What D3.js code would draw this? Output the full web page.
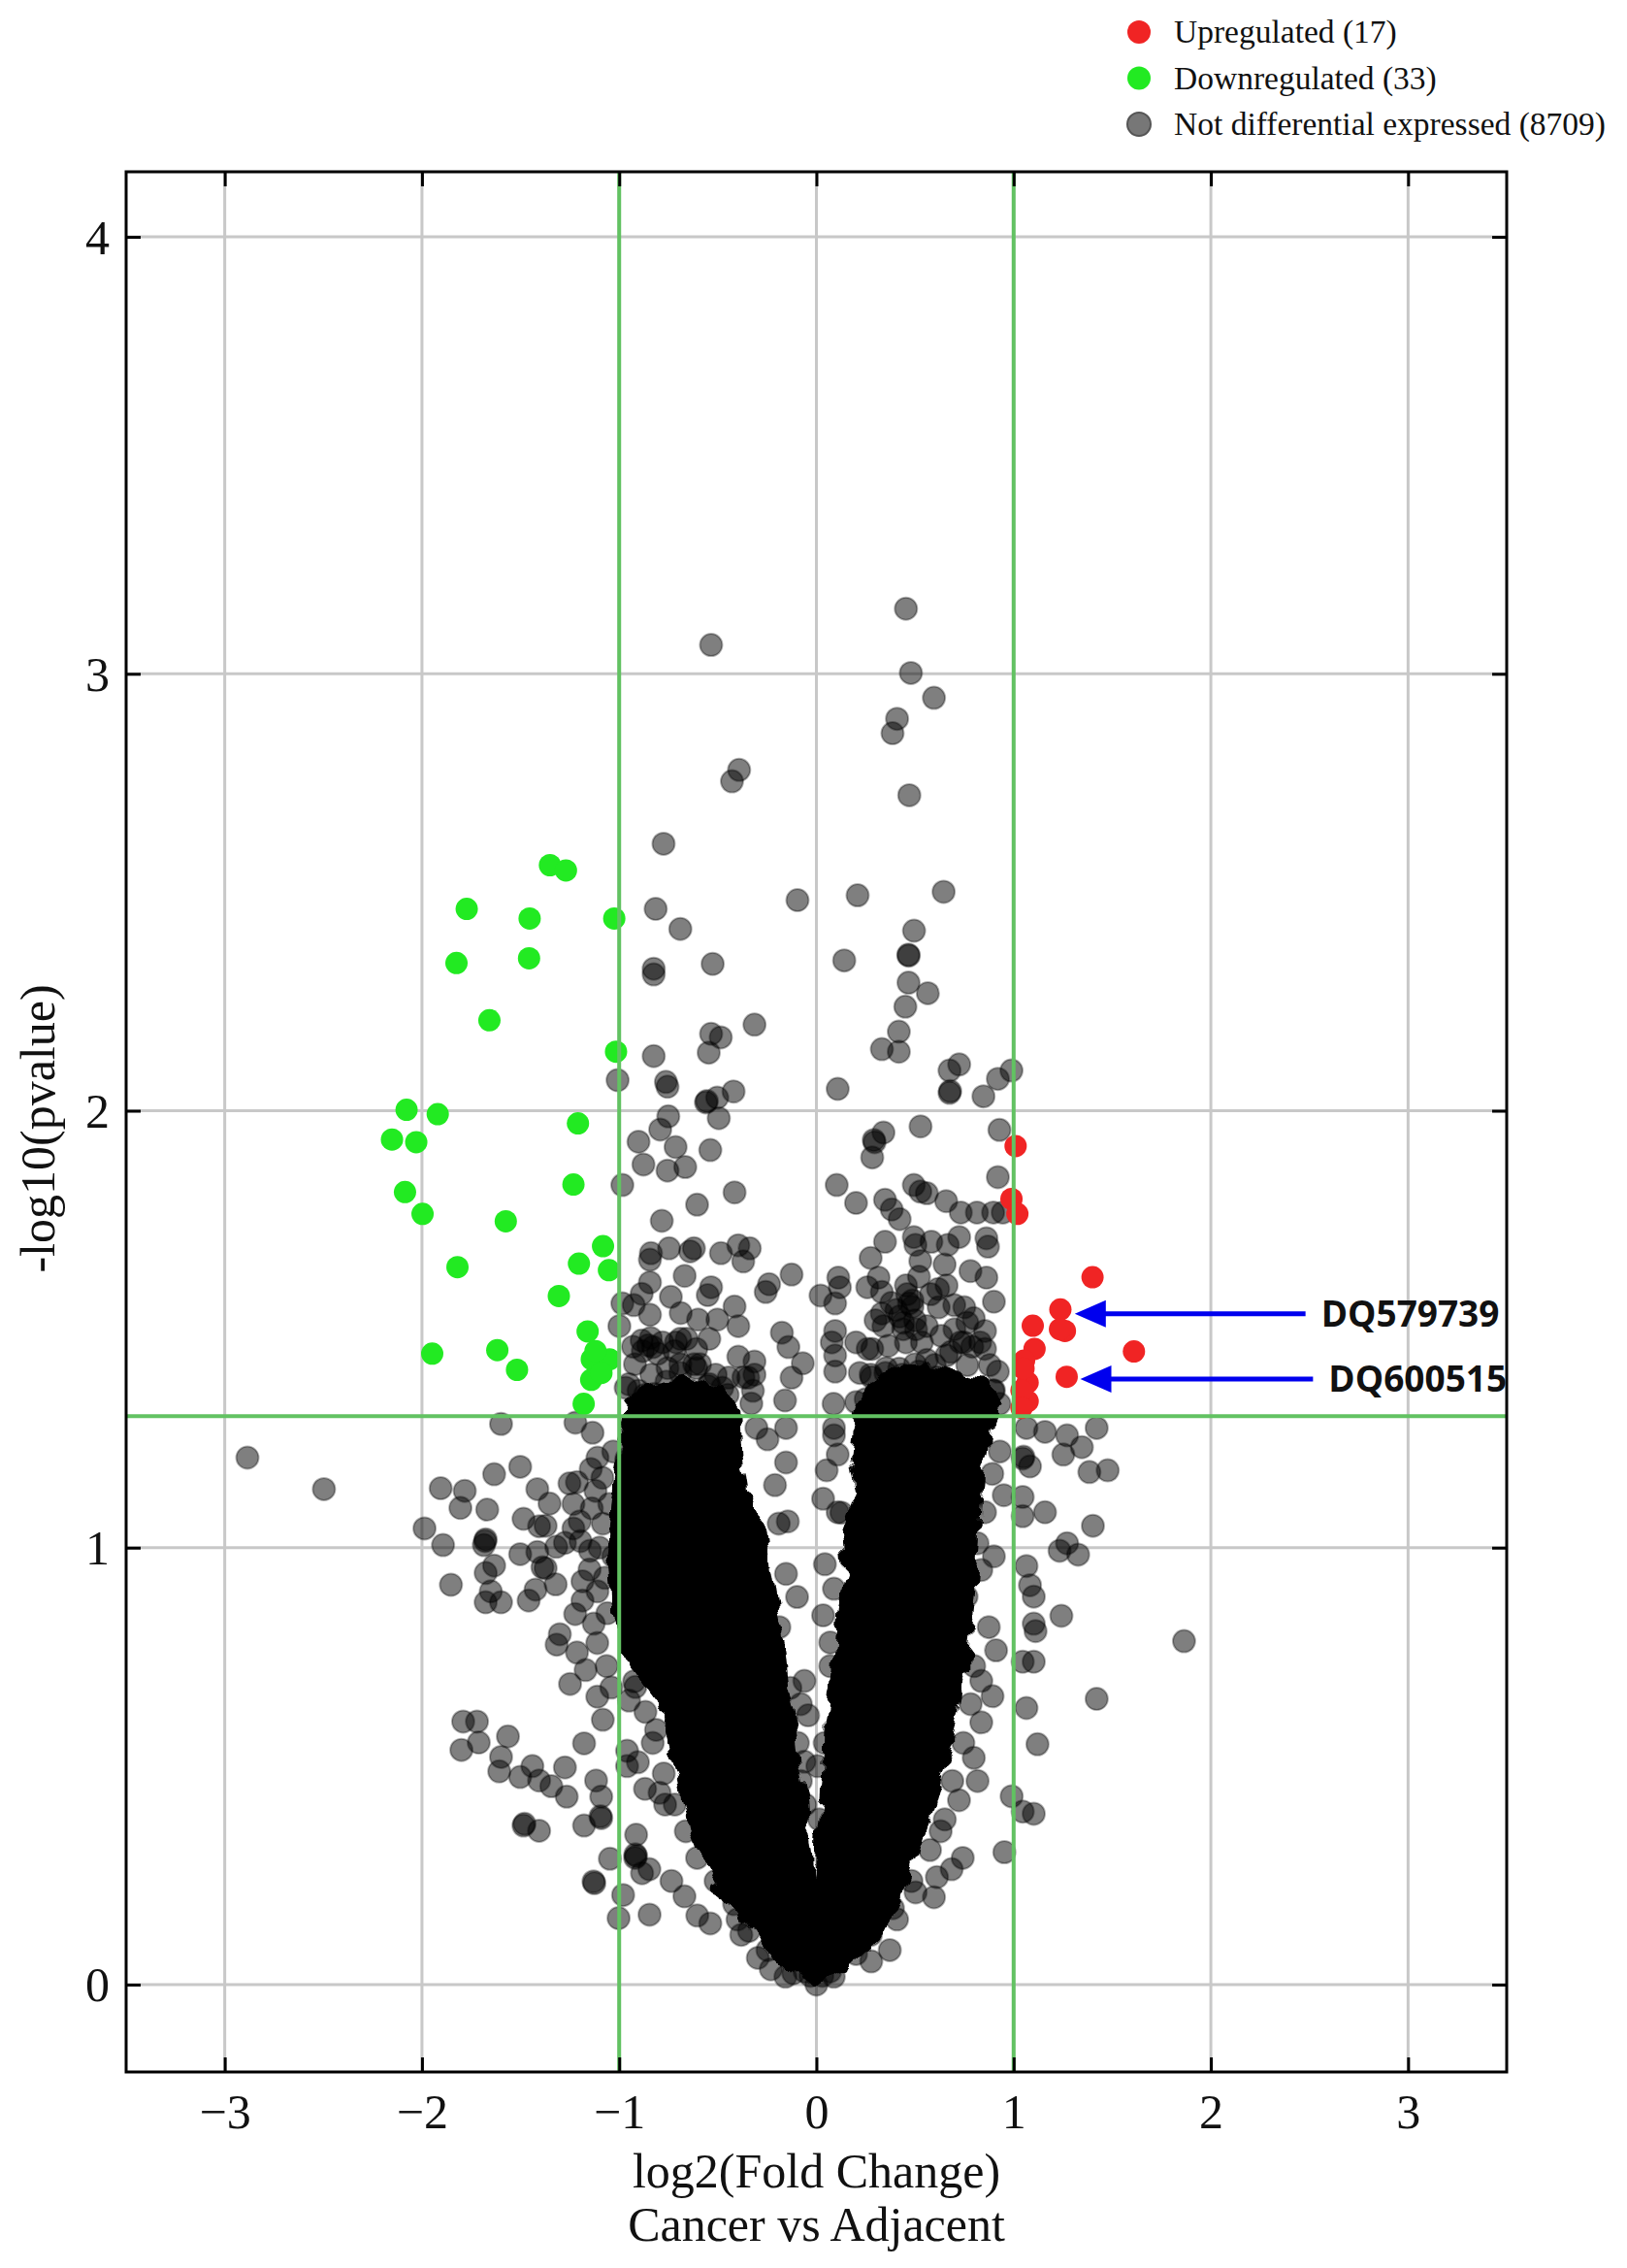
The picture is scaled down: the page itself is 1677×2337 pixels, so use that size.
<!DOCTYPE html>
<html>
<head>
<meta charset="utf-8">
<script src="https://cdn.jsdelivr.net/npm/d3@7"></script>
<style>
  body { margin: 0; background: #fff; }
  svg { display: block; }
</style>
</head>
<body>
<div id="chart"></div>
<script>
// Values: [log2 fold change, -log10 p]
const xTicks = [-3, -2, -1, 0, 1, 2, 3];
const yTicks = [0, 1, 2, 3, 4];
const foldCutoffs = [-1, 1];
const pCutoff = 1.301;

const upregulated = [
  [1.010, 1.919], [0.989, 1.798], [1.019, 1.764], [1.40, 1.619], [1.237, 1.545],
  [1.26, 1.496], [1.235, 1.50], [1.097, 1.508], [1.61, 1.449], [1.106, 1.455],
  [1.053, 1.428], [1.269, 1.391], [1.071, 1.378], [1.071, 1.335], [1.05, 1.41],
  [1.04, 1.36], [1.04, 1.32]
];

const downregulated = [
  [-1.351, 2.562], [-1.27, 2.55], [-1.773, 2.462], [-1.454, 2.440], [-1.025, 2.440],
  [-1.825, 2.338], [-1.457, 2.349], [-1.658, 2.207], [-1.016, 2.135], [-2.078, 2.002],
  [-1.92, 1.992], [-2.152, 1.934], [-2.029, 1.928], [-1.209, 1.971], [-2.086, 1.814],
  [-1.997, 1.764], [-1.575, 1.747], [-1.232, 1.831], [-1.082, 1.690], [-1.82, 1.642],
  [-1.204, 1.650], [-1.052, 1.635], [-1.306, 1.576], [-1.948, 1.444], [-1.618, 1.452],
  [-1.518, 1.407], [-1.16, 1.495], [-1.139, 1.431], [-1.049, 1.431], [-1.142, 1.384],
  [-1.18, 1.329], [-1.12, 1.45], [-1.09, 1.40]
];

const notDifferential = [
  // upper right of zero
  [0.454, 3.149], [0.479, 3.002], [0.596, 2.945], [0.409, 2.897], [0.386, 2.864],
  [0.471, 2.722], [0.209, 2.493], [0.645, 2.501], [0.495, 2.412], [0.141, 2.344],
  [0.466, 2.357], [0.468, 2.355], [0.467, 2.293], [0.565, 2.269], [0.451, 2.238],
  [0.418, 2.181], [0.332, 2.141], [0.418, 2.135], [0.675, 2.092], [0.724, 2.106],
  [0.675, 2.041], [0.678, 2.045], [0.108, 2.050], [0.847, 2.033], [0.92, 2.073],
  [0.989, 2.092], [0.34, 1.95], [0.291, 1.933], [0.295, 1.928], [0.528, 1.964], [0.928, 1.956],
  // upper left of zero
  [-0.534, 3.066], [-0.392, 2.78], [-0.428, 2.754], [-0.775, 2.611], [-0.815, 2.462],
  [-0.69, 2.416], [-0.096, 2.482], [-0.526, 2.336], [-0.825, 2.325], [-0.825, 2.312],
  [-0.314, 2.197], [-0.534, 2.176], [-0.485, 2.168], [-0.546, 2.133], [-0.825, 2.125],
  [-1.008, 2.07], [-0.763, 2.066], [-0.755, 2.055], [-0.42, 2.044], [-0.56, 2.019],
  [-0.555, 2.022], [-0.503, 2.03], [-0.495, 1.983], [-0.751, 1.987], [-0.792, 1.957],
  [-0.902, 1.929], [-0.714, 1.917], [-0.538, 1.91], [-0.877, 1.877], [-0.755, 1.863],
  [-0.665, 1.871],
  // band above the p cutoff, left
  [-0.984, 1.83], [-0.415, 1.813], [-0.605, 1.785], [-0.784, 1.748], [-0.839, 1.674],
  [-0.844, 1.659], [-0.747, 1.685], [-0.64, 1.678], [-0.621, 1.685], [-0.484, 1.674],
  [-0.396, 1.692], [-0.338, 1.685], [-0.371, 1.655], [-0.668, 1.622], [-0.844, 1.607],
  [-0.886, 1.581], [-0.738, 1.574], [-0.534, 1.596], [-0.551, 1.578], [-0.984, 1.559],
  [-0.926, 1.555], [-0.844, 1.533], [-0.688, 1.537], [-0.6, 1.522], [-0.502, 1.522],
  [-0.415, 1.552], [-0.396, 1.507], [-0.24, 1.603], [-0.257, 1.585], [-0.126, 1.625],
  [-0.999, 1.507], [-0.886, 1.474], [-0.829, 1.459], [-0.804, 1.444], [-0.658, 1.478],
  [-0.609, 1.455], [-0.543, 1.478], [-0.712, 1.47], [-0.175, 1.492], [-0.142, 1.459],
  [-0.069, 1.422], [-0.126, 1.389], [-0.159, 1.337], [-0.396, 1.437], [-0.314, 1.426],
  [-0.322, 1.359], [-0.609, 1.411], [-0.511, 1.396], [-0.967, 1.366], [-0.902, 1.359],
  [-0.821, 1.352], [-0.706, 1.359], [-0.543, 1.374], [-0.445, 1.389], [-0.314, 1.396],
  [-0.837, 1.396], [-0.755, 1.411], [-0.87, 1.35], [-0.80, 1.34], [-0.72, 1.33],
  [-0.64, 1.36], [-0.58, 1.34], [-0.5, 1.33], [-0.45, 1.35], [-0.69, 1.40],
  [-0.76, 1.38], [-0.62, 1.42], [-0.55, 1.37], [-0.37, 1.39], [-0.33, 1.33],
  [-0.88, 1.45], [-0.84, 1.48], [-0.92, 1.42], [-0.78, 1.47],
  [-0.853, 1.463], [-0.69, 1.478], [-0.69, 1.42], [-0.59, 1.42], [-0.951, 1.374],
  [-0.771, 1.344], [-0.477, 1.366], [-0.346, 1.389], [-0.93, 1.46], [-0.72, 1.45],
  // band above the p cutoff, right
  [0.283, 1.893], [0.92, 1.848], [0.103, 1.83], [0.201, 1.789], [0.348, 1.796],
  [0.494, 1.83], [0.527, 1.815], [0.56, 1.811], [0.658, 1.793], [0.382, 1.774],
  [0.422, 1.752], [0.732, 1.767], [0.814, 1.767], [0.896, 1.767], [0.945, 1.767],
  [0.494, 1.711], [0.502, 1.693], [0.583, 1.7], [0.666, 1.693], [0.724, 1.711],
  [0.862, 1.708], [0.87, 1.689], [0.348, 1.7], [0.275, 1.663], [0.527, 1.656],
  [0.65, 1.648], [0.781, 1.633], [0.862, 1.618], [0.617, 1.592], [0.699, 1.555],
  [0.9, 1.563], [0.315, 1.618], [0.258, 1.596], [0.332, 1.585], [0.454, 1.6],
  [0.487, 1.566], [0.487, 1.551], [0.111, 1.618], [0.119, 1.596], [0.021, 1.577],
  [0.095, 1.559], [0.332, 1.536], [0.422, 1.529], [0.56, 1.507], [0.798, 1.525],
  [0.855, 1.496], [0.095, 1.496], [0.078, 1.47], [0.201, 1.47], [0.283, 1.455],
  [0.364, 1.462], [0.454, 1.47], [0.095, 1.44], [0.095, 1.403], [0.855, 1.455],
  [0.879, 1.418], [0.92, 1.403], [0.087, 1.329], [0.201, 1.333], [0.928, 1.329],
  [0.22, 1.40], [0.28, 1.39], [0.35, 1.40], [0.42, 1.41], [0.50, 1.42],
  [0.56, 1.43], [0.61, 1.39], [0.66, 1.44], [0.73, 1.47], [0.79, 1.46],
  [0.25, 1.34], [0.33, 1.33], [0.40, 1.35], [0.47, 1.34], [0.55, 1.36],
  [0.62, 1.33], [0.70, 1.36], [0.77, 1.35], [0.84, 1.34], [0.90, 1.36],
  [0.44, 1.50], [0.50, 1.52], [0.62, 1.55], [0.66, 1.60], [0.58, 1.58],
  [0.75, 1.55], [0.70, 1.50], [0.30, 1.52], [0.38, 1.56], [0.52, 1.62], [0.46, 1.58],
  [0.275, 1.396], [0.354, 1.411], [0.436, 1.396], [0.518, 1.403], [0.6, 1.418],
  [0.682, 1.448], [0.748, 1.47], [0.765, 1.418], [0.32, 1.352], [0.418, 1.344],
  [0.518, 1.352], [0.616, 1.337], [0.714, 1.359], [0.814, 1.352], [0.896, 1.359],
  [0.44, 1.515], [0.505, 1.5], [0.34, 1.507], [0.405, 1.544], [0.47, 1.559],
  [0.535, 1.47], [0.633, 1.485], [0.765, 1.515], [0.83, 1.47], [0.26, 1.455],
  // far left, below the p cutoff
  [-2.885, 1.206], [-2.497, 1.134], [-1.599, 1.283], [-1.222, 1.286], [-1.135, 1.263],
  [-1.905, 1.136], [-1.783, 1.130], [-1.805, 1.091], [-1.669, 1.087], [-1.634, 1.168],
  [-1.502, 1.185], [-1.415, 1.134], [-1.353, 1.101], [-1.485, 1.066], [-1.406, 1.049],
  [-1.987, 1.044], [-1.893, 1.006], [-1.677, 1.019], [-1.68, 1.015], [-1.686, 1.006],
  [-1.502, 0.985], [-1.415, 0.990], [-1.389, 0.955], [-1.634, 0.959], [-1.677, 0.942],
  [-1.853, 0.915], [-1.651, 0.900], [-1.677, 0.875], [-1.599, 0.875], [-1.459, 0.879],
  [-1.424, 0.904], [-1.322, 0.916], [-1.275, 1.011], [-1.232, 1.044], [-1.232, 1.1],
  [-1.214, 1.15], [-1.144, 1.18], [-1.11, 1.206], [-1.301, 0.802], [-1.214, 0.76],
  [-1.249, 0.688], [-1.791, 0.602], [-1.721, 0.602], [-1.8, 0.537], [-1.712, 0.554],
  [-1.564, 0.568], [-1.599, 0.521], [-1.608, 0.488], [-1.502, 0.475], [-1.44, 0.5],
  [-1.406, 0.467], [-1.344, 0.454], [-1.275, 0.497], [-1.266, 0.43], [-1.178, 0.552],
  [-1.117, 0.467], [-1.091, 0.43], [-1.485, 0.364], [-1.48, 0.368], [-1.406, 0.352],
  [-1.178, 0.364], [-1.091, 0.381], [-1.095, 0.385], [-1.047, 0.288], [-1.126, 0.232],
  [-1.13, 0.236], [-1.003, 0.152], [-0.846, 0.16], [-0.919, 0.29], [-0.98, 0.205],
  [-0.884, 0.255], [-0.963, 1.198], [-1.319, 1.002], [-1.11, 0.9],
  [-1.252, 1.147], [-1.085, 1.16], [-1.139, 1.09], [-1.083, 1.055], [-1.373, 1.05],
  [-1.196, 1.015], [-1.148, 0.993], [-1.373, 0.953], [-1.186, 0.923], [-1.073, 0.931],
  [-1.186, 0.879], [-1.223, 0.848], [-1.129, 0.826], [-1.317, 0.778], [-1.111, 0.782],
  [-1.064, 0.729], [-1.111, 0.659], [-1.083, 0.606], [-0.914, 0.343], [-0.914, 0.294],
  [-0.918, 0.298], [-0.847, 0.264], [-0.735, 0.237], [-0.669, 0.202], [-0.604, 0.158],
  [-0.538, 0.14], [-0.4, 0.149], [-0.381, 0.114], [-0.297, 0.061], [-0.231, 0.035],
  [-0.157, 0.018], [-0.96, 0.535], [-0.96, 0.5], [-0.905, 0.509], [-0.869, 0.448],
  [-0.795, 0.439], [-0.767, 0.412], [-0.813, 0.583], [-0.95, 0.65], [-0.918, 0.681],
  [-1.05, 1.1], [-1.03, 0.98], [-1.06, 0.85], [-1.04, 0.68], [-1.15, 0.95],
  [-1.2, 1.06], [-1.03, 1.22], [-1.17, 0.72], [-1.1, 1.0], [-1.12, 1.13],
  // edges of the V
  [-0.942, 1.257], [-0.963, 1.204], [-0.924, 0.694], [-0.867, 0.624], [-0.83, 0.553],
  [-0.774, 0.483], [-0.718, 0.412], [-0.662, 0.351], [-0.605, 0.29], [-0.511, 0.237],
  [-0.417, 0.184], [-0.342, 0.123], [-0.248, 0.079], [-0.117, 0.026],
  [0.8, 0.729], [0.782, 0.642], [0.745, 0.553], [0.689, 0.466], [0.651, 0.378],
  [0.576, 0.308], [0.482, 0.237], [0.388, 0.175], [0.276, 0.114], [0.201, 0.07],
  [0.088, 0.018], [-0.188, 0.818], [-0.132, 0.679], [-0.094, 0.553], [-0.057, 0.412],
  [0.108, 1.081], [0.089, 0.906], [0.07, 0.729], [0.042, 0.553], [0.014, 0.378],
  // inside the V
  [-0.154, 0.94], [-0.098, 0.887], [0.043, 0.962], [0.034, 1.112], [0.052, 1.177],
  [0.108, 1.213], [0.089, 1.274], [0.089, 1.257], [0.127, 1.08], [0.034, 0.845],
  [0.07, 0.783], [-0.061, 0.695], [-0.079, 0.642], [-0.042, 0.616], [-0.061, 0.51],
  [-0.079, 0.466], [0.005, 0.5], [-0.154, 1.274], [-0.248, 1.248], [-0.304, 1.274],
  [-0.154, 1.195], [-0.21, 1.143], [-0.191, 1.055], [-0.145, 1.06],
  // right, below the p cutoff
  [1.065, 1.274], [1.159, 1.265], [1.271, 1.257], [1.346, 1.23], [1.421, 1.274],
  [1.384, 1.173], [1.477, 1.177], [1.252, 1.213], [1.046, 1.204], [1.05, 1.208],
  [1.083, 1.186], [1.046, 1.116], [1.046, 1.072], [1.159, 1.081], [1.402, 1.05],
  [1.271, 1.01], [1.233, 0.993], [1.327, 0.984], [1.065, 0.958], [1.083, 0.914],
  [1.102, 0.888], [1.242, 0.844], [1.102, 0.826], [1.111, 0.809], [1.102, 0.739],
  [1.046, 0.739], [1.065, 0.633], [1.421, 0.654], [1.121, 0.55], [0.99, 0.431],
  [1.102, 0.391], [1.046, 0.396], [0.953, 0.303], [0.596, 0.2], [1.864, 0.786],
  [0.874, 0.818], [0.911, 0.765], [0.836, 0.695], [0.893, 0.66], [0.836, 0.6],
  [0.798, 0.519], [0.817, 0.466], [0.723, 0.422], [0.742, 0.29], [0.686, 0.264],
  [0.611, 0.246], [0.63, 0.351], [0.503, 0.211], [0.409, 0.149], [0.372, 0.079],
  [0.278, 0.053], [0.761, 0.888], [0.836, 0.949], [0.817, 1.01], [0.855, 1.081],
  [0.892, 1.169], [0.93, 1.22], [0.95, 1.12], [0.9, 0.98],
  // the tip of the V
  [0, 0], [-0.03, 0.02], [0.03, 0.02], [-0.06, 0.03], [0.07, 0.03]
];

// outline of the solid black mass where thousands of points overlap
const denseCore = [
  [-0.97, 1.33], [-1.0, 1.22], [-1.04, 1.12], [-1.06, 0.99], [-1.04, 0.86],
  [-0.96, 0.74], [-0.811, 0.642], [-0.755, 0.553], [-0.698, 0.466], [-0.661, 0.378],
  [-0.585, 0.29], [-0.473, 0.202], [-0.323, 0.114], [-0.173, 0.044], [0, 0],
  [0.165, 0.044], [0.334, 0.114], [0.428, 0.202], [0.503, 0.29], [0.578, 0.378],
  [0.632, 0.466], [0.69, 0.553], [0.727, 0.642], [0.765, 0.729], [0.79, 0.818],
  [0.81, 0.906], [0.82, 0.993], [0.83, 1.081], [0.845, 1.169], [0.88, 1.257],
  [0.95, 1.33], [0.85, 1.39], [0.65, 1.41], [0.45, 1.42], [0.28, 1.39], [0.21, 1.33],
  [0.19, 1.292], [0.17, 1.213], [0.2, 1.125], [0.13, 1.037], [0.145, 0.949],
  [0.11, 0.861], [0.095, 0.773], [0.075, 0.685], [0.04, 0.597], [0.035, 0.51],
  [0.024, 0.422], [0.005, 0.334], [-0.005, 0.246],
  [-0.019, 0.30], [-0.028, 0.334], [-0.04, 0.422], [-0.08, 0.51], [-0.1, 0.597],
  [-0.14, 0.685], [-0.16, 0.773], [-0.2, 0.861], [-0.23, 0.949], [-0.25, 1.037],
  [-0.35, 1.125], [-0.38, 1.213], [-0.39, 1.32], [-0.48, 1.37], [-0.7, 1.39], [-0.9, 1.37]
];

const legendLabels = ['Upregulated (17)', 'Downregulated (33)', 'Not differential expressed (8709)'];
const calloutLabels = ['DQ579739', 'DQ600515'];
const calloutTips = [[1.31, 1.535], [1.338, 1.386]];
const calloutTails = [[2.48, 1.535], [2.518, 1.386]];

// Layout
const W = 1677;
const H = 2337;
const margin = { top: 177, right: 124, bottom: 202, left: 130 };
const width = W - margin.left - margin.right;
const height = H - margin.top - margin.bottom;

const serif = '"Liberation Serif", "Times New Roman", serif';
const gridColor = '#c8c8c8';
const cutoffColor = '#62c262';
const colors = { up: '#f02424', down: '#22ea22', none: '#000' };
const r = 11.5;

const svg = d3.select('#chart').append('svg')
  .attr('width', W)
  .attr('height', H);

// roughen the edge of the dense core so it reads like piled-up dots
const filter = svg.append('defs').append('filter')
  .attr('id', 'rough')
  .attr('x', '-5%').attr('y', '-5%').attr('width', '110%').attr('height', '110%');
filter.append('feTurbulence')
  .attr('type', 'fractalNoise').attr('baseFrequency', 0.05)
  .attr('numOctaves', 2).attr('seed', 4).attr('result', 'noise');
filter.append('feDisplacementMap')
  .attr('in', 'SourceGraphic').attr('in2', 'noise')
  .attr('scale', 20).attr('xChannelSelector', 'R').attr('yChannelSelector', 'G');

svg.append('rect').attr('width', W).attr('height', H).attr('fill', '#fff');

const g = svg.append('g')
  .attr('transform', `translate(${margin.left},${margin.top})`);

const x = d3.scaleLinear().domain([-3.5, 3.5]).range([0, width]);
const y = d3.scaleLinear().domain([-0.2, 4.149]).range([height, 0]);

// grid
g.append('g').selectAll('line')
  .data(xTicks)
  .enter().append('line')
  .attr('x1', d => x(d)).attr('x2', d => x(d))
  .attr('y1', 0).attr('y2', height)
  .attr('stroke', gridColor).attr('stroke-width', 3);

g.append('g').selectAll('line')
  .data(yTicks)
  .enter().append('line')
  .attr('x1', 0).attr('x2', width)
  .attr('y1', d => y(d)).attr('y2', d => y(d))
  .attr('stroke', gridColor).attr('stroke-width', 3);

// dense core of the cloud
const coreLine = d3.line()
  .x(d => x(d[0]))
  .y(d => y(d[1]))
  .curve(d3.curveLinearClosed);

g.append('path')
  .attr('d', coreLine(denseCore))
  .attr('fill', '#000')
  .attr('filter', 'url(#rough)');

// points
g.append('g').selectAll('circle')
  .data(notDifferential)
  .enter().append('circle')
  .attr('cx', d => x(d[0]))
  .attr('cy', d => y(d[1]))
  .attr('r', r)
  .attr('fill', 'rgba(0,0,0,0.5)')
  .attr('stroke', 'rgba(0,0,0,0.3)')
  .attr('stroke-width', 2);

g.append('g').selectAll('circle')
  .data(downregulated)
  .enter().append('circle')
  .attr('cx', d => x(d[0]))
  .attr('cy', d => y(d[1]))
  .attr('r', r)
  .attr('fill', colors.down);

g.append('g').selectAll('circle')
  .data(upregulated)
  .enter().append('circle')
  .attr('cx', d => x(d[0]))
  .attr('cy', d => y(d[1]))
  .attr('r', r)
  .attr('fill', colors.up);

// cut-off lines
g.append('g').selectAll('line')
  .data(foldCutoffs)
  .enter().append('line')
  .attr('x1', d => x(d)).attr('x2', d => x(d))
  .attr('y1', 0).attr('y2', height)
  .attr('stroke', cutoffColor).attr('stroke-width', 4);

g.append('line')
  .attr('x1', 0).attr('x2', width)
  .attr('y1', y(pCutoff)).attr('y2', y(pCutoff))
  .attr('stroke', cutoffColor).attr('stroke-width', 4);

// axes with inward ticks on all four sides
const fmt = d => (d < 0 ? '\u2212' + Math.abs(d) : String(d));

const xAxis = g.append('g')
  .attr('transform', `translate(0,${height})`)
  .call(d3.axisBottom(x).tickValues(xTicks).tickSize(-15).tickSizeOuter(0).tickFormat(fmt));
xAxis.selectAll('text')
  .attr('y', 58).attr('dy', null)
  .style('font-family', serif).style('font-size', '50px').attr('fill', '#111');

const yAxis = g.append('g')
  .call(d3.axisLeft(y).tickValues(yTicks).tickSize(-15).tickSizeOuter(0).tickFormat(fmt));
yAxis.selectAll('text')
  .attr('x', -17).attr('dy', '0.34em')
  .style('font-family', serif).style('font-size', '50px').attr('fill', '#111');

g.append('g')
  .call(d3.axisTop(x).tickValues(xTicks).tickSize(-15).tickSizeOuter(0).tickFormat(''));
g.append('g')
  .attr('transform', `translate(${width},0)`)
  .call(d3.axisRight(y).tickValues(yTicks).tickSize(-15).tickSizeOuter(0).tickFormat(''));

g.selectAll('.domain').remove();
g.selectAll('.tick line').attr('stroke', '#000').attr('stroke-width', 3);

g.append('rect')
  .attr('width', width).attr('height', height)
  .attr('fill', 'none').attr('stroke', '#000').attr('stroke-width', 3);

// axis titles
svg.append('text')
  .attr('x', margin.left + x(0)).attr('y', 2254)
  .attr('text-anchor', 'middle')
  .style('font-family', serif).style('font-size', '50px').attr('fill', '#111')
  .text('log2(Fold Change)');

svg.append('text')
  .attr('x', margin.left + x(0)).attr('y', 2309)
  .attr('text-anchor', 'middle')
  .style('font-family', serif).style('font-size', '50px').attr('fill', '#111')
  .text('Cancer vs Adjacent');

svg.append('text')
  .attr('transform', 'translate(56,1163) rotate(-90)')
  .attr('text-anchor', 'middle')
  .style('font-family', serif).style('font-size', '50px').attr('fill', '#111')
  .text('-log10(pvalue)');

// callouts
const callouts = g.append('g');
calloutLabels.forEach((label, i) => {
  const tx = x(calloutTips[i][0]);
  const ty = y(calloutTips[i][1]);
  const ex = x(calloutTails[i][0]);
  callouts.append('line')
    .attr('x1', ex).attr('x2', tx + 28)
    .attr('y1', ty).attr('y2', ty)
    .attr('stroke', '#0000ee').attr('stroke-width', 5);
  callouts.append('path')
    .attr('d', `M${tx},${ty} L${tx + 32},${ty - 14} L${tx + 32},${ty + 14} Z`)
    .attr('fill', '#0000ee');
  callouts.append('text')
    .attr('x', ex + 16).attr('y', ty + 13)
    .style('font-family', '"Open Sans", "DejaVu Sans", sans-serif')
    .style('font-size', '37px').style('font-weight', 'bold')
    .attr('fill', '#111')
    .text(label);
});

// legend
const legendFill = [colors.up, colors.down, '#777'];
const legend = svg.append('g').attr('transform', 'translate(1174,33)');
legendLabels.forEach((label, i) => {
  const row = legend.append('g').attr('transform', `translate(0,${i * 47.5})`);
  row.append('circle')
    .attr('r', 12)
    .attr('fill', legendFill[i])
    .attr('stroke', i === 2 ? '#555' : 'none')
    .attr('stroke-width', 2);
  row.append('text')
    .attr('x', 36).attr('y', 11)
    .style('font-family', serif).style('font-size', '33.5px').attr('fill', '#111')
    .text(label);
});
</script>
</body>
</html>
